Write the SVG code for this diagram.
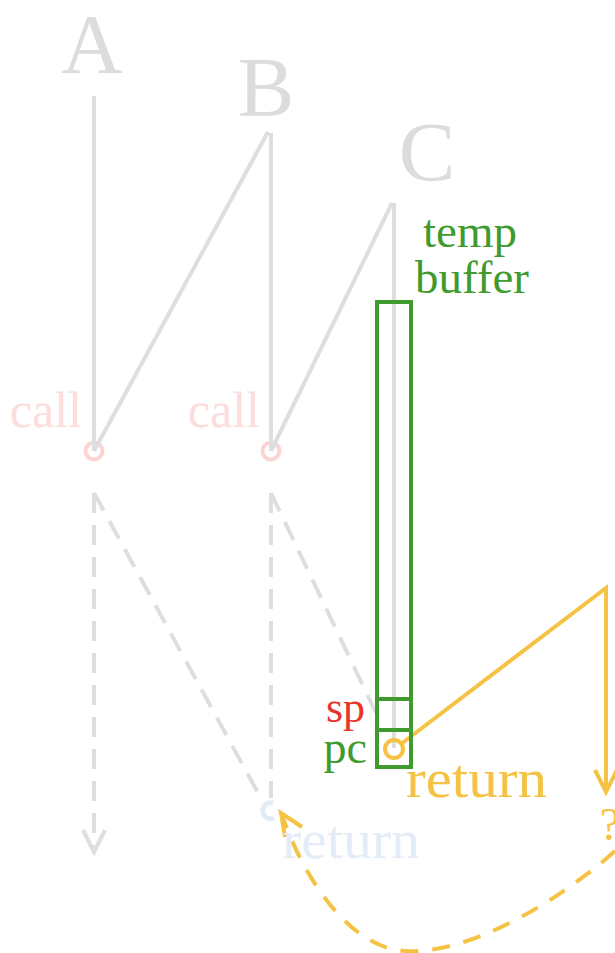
<svg xmlns="http://www.w3.org/2000/svg" width="615" height="953" viewBox="0 0 615 953">
<style>
text { font-family: "Liberation Serif", "DejaVu Serif", serif; }
.big { font-size: 85px; fill: #dcdcdc; text-anchor: middle; }
.call { font-size: 50px; fill: #fcdcdc; text-anchor: end; }
.gray { stroke: #dedede; stroke-width: 4; fill: none; }
.gdash { stroke: #dedede; stroke-width: 4; fill: none; stroke-dasharray: 20 12; }
.orange { stroke: #f5c243; stroke-width: 4; fill: none; }
.odash { stroke: #f5c243; stroke-width: 4; fill: none; stroke-dasharray: 18 14; }
.green { stroke: #3f9b2e; stroke-width: 4; fill: none; }
.pink { stroke: #fbd5d5; stroke-width: 4; fill: none; }
.gt { fill: #3f9b2e; }
.ot { fill: #f5c243; }
</style>

<g id="node-A"><text class="big" x="92" y="73">A</text></g>
<g id="node-B"><text class="big" x="266" y="116">B</text></g>
<g id="node-C"><text class="big" x="427" y="181">C</text></g>

<g id="call-A">
  <circle class="pink" cx="94" cy="451" r="8.5"/>
  <text class="call" x="82" y="427">call</text>
</g>
<g id="call-B">
  <circle class="pink" cx="271" cy="451" r="8.5"/>
  <text class="call" x="260" y="427">call</text>
</g>

<g id="connectors">
  <line class="gray" x1="94" y1="96" x2="94" y2="451"/>
  <line class="gray" x1="94" y1="451" x2="268" y2="132"/>
  <line class="gray" x1="271" y1="133" x2="271" y2="451"/>
  <line class="gray" x1="271" y1="451" x2="392" y2="203"/>
  <line class="gray" x1="394" y1="203" x2="394" y2="748"/>
  <line class="gdash" x1="94" y1="493" x2="94" y2="848"/>
  <polyline class="gray" points="83,830 94,852 105,830"/>
  <line class="gdash" x1="94" y1="493" x2="263" y2="802"/>
  <line class="gdash" x1="271" y1="493" x2="271" y2="798"/>
  <line class="gdash" x1="271" y1="493" x2="376" y2="713"/>
  <polyline class="orange" points="401,744 606,588 606,791"/>
  <polyline class="orange" points="595,770 606,792 617,770"/>
  <path class="odash" d="M 615,851 C 560,900 470,955 405,951 C 350,948 305,880 283,818"/>
  <polyline class="orange" points="302,827 281,813 285,837"/>
</g>

<g id="buffer">
  <rect class="green" x="377" y="302" width="34" height="465"/>
  <line class="green" x1="377" y1="699" x2="411" y2="699"/>
  <line class="green" x1="377" y1="730" x2="411" y2="730"/>
  <text class="gt" x="470" y="247" font-size="47" text-anchor="middle">temp</text>
  <text class="gt" x="472" y="293" font-size="47" text-anchor="middle">buffer</text>
</g>
<g id="sp"><text x="365" y="722" font-size="44" fill="#e8352a" text-anchor="end">sp</text></g>
<g id="pc"><text class="gt" x="367" y="763" font-size="46" text-anchor="end">pc</text></g>

<g id="return-C">
  <circle class="orange" cx="394" cy="749" r="9"/>
  <text class="ot" x="406" y="797" font-size="55" textLength="141" lengthAdjust="spacingAndGlyphs">return</text>
</g>
<g id="unknown">
  <text class="ot" x="610" y="840" font-size="46" text-anchor="middle">?</text>
</g>
<g id="return-B">
  <path d="M 273,803 A 8 8 0 1 0 274,818" stroke="#e2ecf7" stroke-width="5" fill="none"/>
  <text x="282" y="858" font-size="55" fill="#e4edf7" textLength="138" lengthAdjust="spacingAndGlyphs">return</text>
</g>
</svg>
